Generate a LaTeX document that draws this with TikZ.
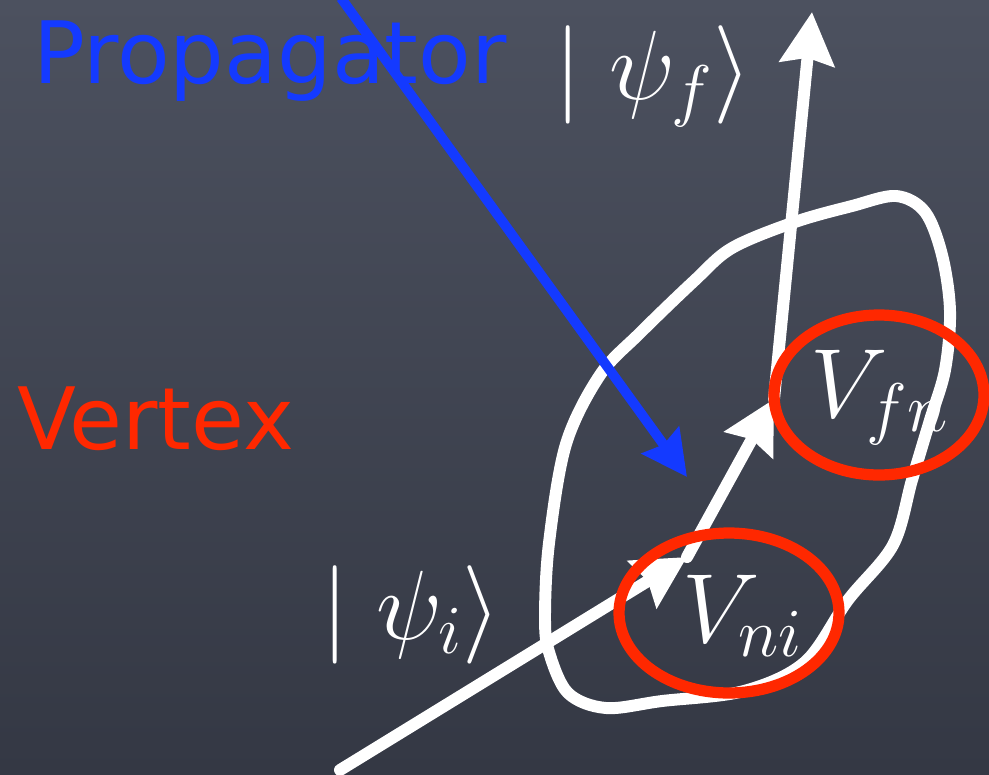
\RequirePackage{fix-cm}
\documentclass[tikz,border=0pt]{standalone}
\usepackage{fontspec}
\usepackage{graphicx}
\setsansfont{DejaVu Sans}
\usetikzlibrary{arrows.meta}
\definecolor{bgtop}{RGB}{76,81,95}
\definecolor{bgbot}{RGB}{52,56,68}
\definecolor{propblue}{RGB}{20,58,255}
\definecolor{vertred}{RGB}{255,40,0}
\tikzset{
  chalk/.style={draw=white, line width=6.8pt, line cap=round, line join=round},
  whitearrow/.style={chalk, -{Stealth[length=1.04cm,width=1.08cm,inset=0.12cm]}},
  bluearrow/.style={draw=propblue, line width=5.6pt, -{Stealth[length=0.9cm,width=0.9cm,inset=0.1cm]}},
  ring/.style={draw=vertred, line width=6.4pt},
  mathlabel/.style={text=white, inner sep=0pt, anchor=base west, font=\fontsize{56}{64}\selectfont},
  wordlabel/.style={inner sep=0pt, anchor=base west, font=\sffamily\fontsize{49}{56}\selectfont}
}
\begin{document}
\begin{tikzpicture}[x=0.02cm,y=-0.02cm]
\useasboundingbox (0,0) rectangle (989,774);
\shade[top color=bgtop, bottom color=bgbot] (0,0) rectangle (989,774);

% hand-drawn loop
\draw[chalk] plot[smooth cycle, tension=0.55] coordinates {
  (896,196) (925,212) (942,255) (950,311) (945,370) (930,420) (912,480)
  (893,545) (848,600) (805,662) (744,691) (662,701) (606,708) (568,693)
  (549,652) (545,617) (549,543) (566,444) (600,375) (640,333) (694,281)
  (732,248) (795,222) (852,206)};

% coordinates of the path
\coordinate (in) at (340,770);
\coordinate (vni) at (687,557);
\coordinate (vfn) at (774,399);
\coordinate (out) at (812,12);

\draw[whitearrow] (in) -- (vni);
\draw[whitearrow] (vni) -- (vfn);
\draw[whitearrow] (vfn) -- (out);

% red rings
\draw[ring] (729,613) ellipse [x radius=2.2cm, y radius=1.6cm];
\draw[ring] (879,395) ellipse [x radius=2.1cm, y radius=1.6cm];

% labels
\node[mathlabel] (psif) at (554,99) {$|\;\psi_f\rangle$};
\node[mathlabel] (psii) at (321,639) {$|\;\psi_i\rangle$};
\node[mathlabel] (Vfn) at (810,417) {$V_{fn}$};
\node[mathlabel] (Vni) at (682,642) {$V_{ni}$};

\node[wordlabel, text=propblue] (prop) at (33,83) {Propagator};
\node[wordlabel, text=vertred] (vert) at (17,449) {Vertex};

% propagator arrow
\coordinate (ptop) at (341,-2);
\coordinate (ptip) at (687,477);
\draw[bluearrow] (ptop) -- (ptip);
\end{tikzpicture}
\end{document}
